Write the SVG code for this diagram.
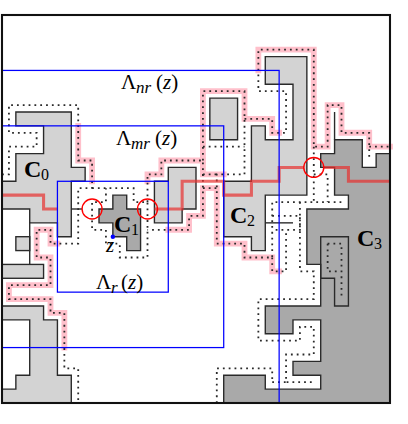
<svg xmlns="http://www.w3.org/2000/svg" width="408" height="424" viewBox="0 0 408 424">
<style>
.lg{fill:#d3d3d3;stroke:#2a2a2a;stroke-width:0.1}
.dg{fill:#a9a9a9;stroke:#2a2a2a;stroke-width:0.1}
.ln{fill:none;stroke:#2a2a2a;stroke-width:0.1}
.dot{fill:none;stroke:#2a2a2a;stroke-width:0.13;stroke-dasharray:0.13 0.29}
.pink{fill:none;stroke:#ffc0cb;stroke-width:0.42;stroke-linecap:square}
.red{fill:none;stroke:#e8312f;stroke-opacity:0.7;stroke-width:0.22}
.blue{fill:none;stroke:#0000ff;stroke-width:0.09}
.circ{fill:none;stroke:#ff0000;stroke-width:0.1}
.t{font-family:"Liberation Serif",serif;fill:#000}
.it{font-style:italic}
.b{font-weight:bold}
</style>
<rect width="408" height="424" fill="#fff"/>
<g transform="translate(2,15) scale(13.857)">
 <g id="C0">
  <path class="lg" d="M1,7H5V11H6V12H5V16H4V15H2V14H0V12H1V10H3V8H1Z"/>
  <rect class="lg" x="1" y="16" width="1" height="1"/>
  <rect class="lg" x="0" y="18" width="3" height="1"/>
  <path class="ln" d="M2,15V18"/>
 </g>
 <g id="LL">
  <path class="lg" d="M0,21H3V22H4V26H5V28H0V27H1V26H2V22H0Z"/>
 </g>
 <g id="C1">
  <path class="dg" d="M8,13H9V14H10V17H9V16H8V15H7V14H8Z"/>
 </g>
 <g id="Cmid">
  <path class="lg" d="M12,11H14V14H13V15H11V12H12Z"/>
 </g>
 <g id="C2">
  <path class="lg" d="M19,3H22V13H19V17H18V16H16V12H18V8H19V9H21V5H19Z"/>
  <path class="lg" d="M15,6H17V9H15Z"/>
  <path class="ln" d="M19,15H21"/>
 </g>
 <g id="C3">
  <path class="dg" d="M24,9H26V11H27V10H28V28H16V26H19V27H23V26H21V25H23V22H21V23H19V21H23V18H22V14H25V13H24V11H23V10H24Z"/>
  <path class="ln" fill="#fff" d="M23,16H25V21H24V19H23Z"/>
  <path class="ln" d="M24,9V7"/>
 </g>
 <g id="connectors">
  <g id="pink">
   <path class="pink" d="M5.5,8V10.5H6.5V12"/>
   <path class="pink" d="M10.5,12V11.5H11.5V10.5H14.5V11.5H16"/>
   <path class="pink" d="M14.5,10.5V5.5H17.5V7.5H19.5V8.5H20"/>
   <path class="pink" d="M12,15.5H13.5V14.5H14.5V12.5H15.5V16.5H17.5V17.5H19.5V18.5H20"/>
   <path class="pink" d="M4,16.5H3.5V15.5H2.5V17.5H3.5V19.5H0.5V20.5H3.5V21.5H4.5V24"/>
   <path class="pink" d="M18.5,4V2.5H22.5V9.5H23.5V6.5H24.5V8.5H26.5V9.5H28"/>
  </g>
  <g id="dotted">
   <path class="dot" d="M0,11.5H0.5V9.5H2.5V8.5H0.5V6.5H5.5V10.5H6.5V12.5H5.5V16.5H3.5V15.5H2.5V17.5H3.5V19.5H0.5V20.5H3.5V21.5H4.5V25.5H5.5V28"/>
   <path class="dot" d="M6.5,12.5H9.5V13.5H10.5V17.5H8.5V16.5H7.5V15.5H6.5V13.5H7.5V12.5"/>
   <path class="dot" d="M10.5,13.5V11.5H11.5V10.5H14.5V14.5H13.5V15.5H10.5"/>
   <path class="dot" d="M14.5,10.5V5.5H17.5V11.5H15.5V16.5H17.5V17.5H19.5V13.5H24.5"/>
   <path class="dot" d="M14.5,9.5H17.5M14.5,11.5H15.5M14.5,12.5H15.5"/>
   <path class="dot" d="M17.5,7.5H19.5V8.5H20.5V5.5H18.5V2.5H22.5V9.5H23.5V6.5H24.5V8.5H26.5V10.5M26.5,9.5H28"/>
   <path class="dot" d="M22.5,9.5V13.5M22.5,11.5H23.5V13.5"/>
   <path class="dot" d="M19.5,14.5H21.5V15.5H19.5"/>
   <path class="dot" d="M19.5,17.5V18.5H20.5V15.5"/>
   <path class="dot" d="M21.5,13.5V18.5H22.5V20.5H18.5V23.5H21.5V22.5H22.5V24.5H20.5V26.5H22.5M19.5,26.5H20.5M15.5,28V25.5H19.5V26.5"/>
   <path class="dot" d="M23.5,16.5H24.5V20.5M23.5,16.5V18.5H24.5"/>
  </g>
  <g id="red">
   <path class="red" d="M0,13H3V14H4"/>
   <path class="red" d="M11,14H13V12H16V13H18V12H20V11H21.8"/>
   <path class="red" d="M23.2,11H25V12H28"/>
  </g>
  <path class="ln" d="M5,14H5.78"/>
  <g id="boxes">
   <rect class="blue" x="0" y="4" width="20" height="24"/>
   <rect class="blue" x="0" y="8" width="16" height="16"/>
   <rect class="blue" x="4" y="12" width="8" height="8"/>
  </g>
  <g id="circles">
   <circle class="circ" cx="6.5" cy="14" r="0.72"/>
   <circle class="circ" cx="10.5" cy="14" r="0.72"/>
   <circle class="circ" cx="22.5" cy="11" r="0.72"/>
  </g>
  <circle cx="8" cy="16" r="0.16" fill="#0000ff"/>
 </g>
 <rect x="0" y="0" width="28" height="28" fill="none" stroke="#111" stroke-width="0.15"/>
</g>
<g id="labels">
 <text class="t" x="121" y="89" font-size="21">Λ</text>
 <text class="t it" x="136" y="93" font-size="17">nr</text>
 <text class="t" x="156" y="89" font-size="21">(<tspan class="it">z</tspan>)</text>
 <text class="t" x="116" y="145" font-size="21">Λ</text>
 <text class="t it" x="131" y="149" font-size="17">mr</text>
 <text class="t" x="155" y="145" font-size="21">(<tspan class="it">z</tspan>)</text>
 <text class="t" x="96" y="289" font-size="21">Λ</text>
 <text class="t it" x="111" y="293" font-size="17">r</text>
 <text class="t" x="121" y="289" font-size="21">(<tspan class="it">z</tspan>)</text>
 <text class="t it" x="106" y="252" font-size="21">z</text>
 <text class="t b" x="24" y="177" font-size="24">C</text>
 <text class="t" x="41" y="180" font-size="16">0</text>
 <text class="t b" x="114" y="232" font-size="24">C</text>
 <text class="t" x="131" y="235" font-size="16">1</text>
 <text class="t b" x="230" y="223" font-size="24">C</text>
 <text class="t" x="247" y="226" font-size="16">2</text>
 <text class="t b" x="357" y="246" font-size="24">C</text>
 <text class="t" x="374" y="249" font-size="16">3</text>
</g>
</svg>
